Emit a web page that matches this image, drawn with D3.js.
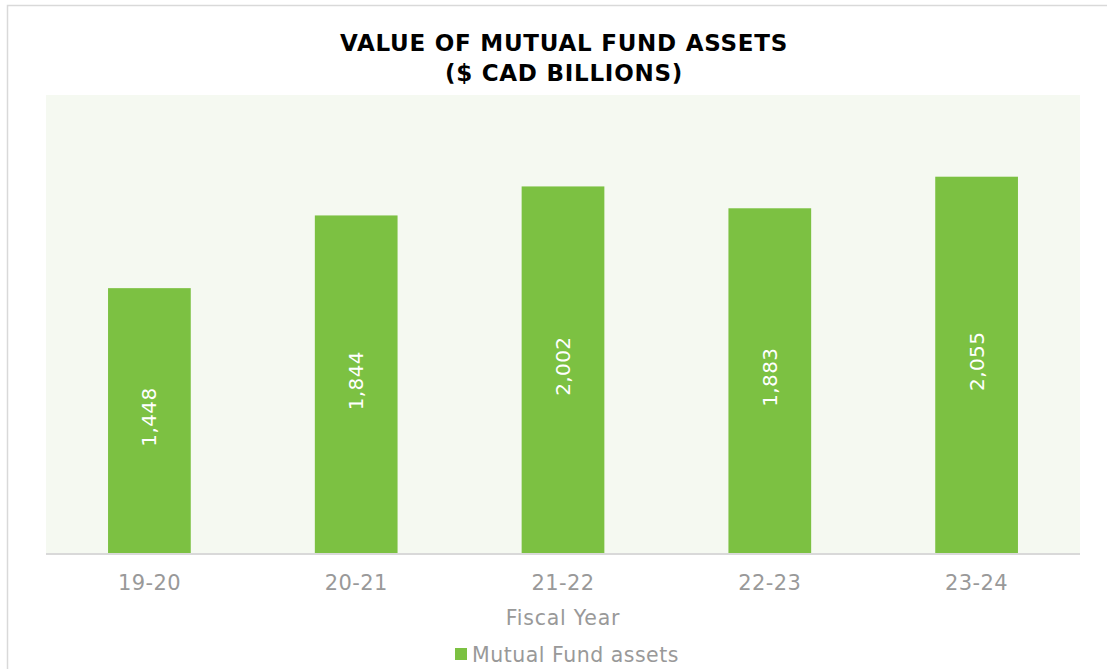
<!DOCTYPE html>
<html>
<head>
<meta charset="utf-8">
<script src="https://cdn.jsdelivr.net/npm/d3@7"></script>
<style>
  html, body { margin: 0; padding: 0; background: #ffffff; }
  svg { display: block; }
  text { font-family: "DejaVu Sans", Verdana, sans-serif; }
</style>
</head>
<body>
<svg id="chart" width="1107" height="669"></svg>
<script>
// Fiscal years and mutual fund assets ($ CAD billions)
const years = ["19-20", "20-21", "21-22", "22-23", "23-24"];
const assets = [1448, 1844, 2002, 1883, 2055];
const seriesName = "Mutual Fund assets";
const titleLines = ["VALUE OF MUTUAL FUND ASSETS", "($ CAD BILLIONS)"];
const xTitle = "Fiscal Year";

const W = 1107, H = 669;
const plot = { left: 46, right: 1080, top: 95, bottom: 554 };
const green = "#7cc142";
const grey = "#999999";

const svg = d3.select("#chart");

// outer chart frame
svg.append("rect")
  .attr("x", 7.5).attr("y", 5.5)
  .attr("width", W + 10).attr("height", H + 10)
  .attr("fill", "#ffffff")
  .attr("stroke", "#d9d9d9").attr("stroke-width", 1.5);

// plot area background
svg.append("rect")
  .attr("x", plot.left).attr("y", plot.top)
  .attr("width", plot.right - plot.left).attr("height", plot.bottom - plot.top)
  .attr("fill", "#f5f9f1");

// title
svg.append("text")
  .attr("text-anchor", "middle")
  .attr("font-weight", "bold").attr("font-size", 23).attr("fill", "#000")
  .attr("letter-spacing", 0.75)
  .selectAll("tspan").data(titleLines).join("tspan")
  .attr("x", 564).attr("y", (d, i) => 51 + i * 30)
  .text(d => d);

const x = d3.scaleBand().domain(years).range([plot.left, plot.right]).paddingInner(0.6).paddingOuter(0.3);
const y = d3.scaleLinear().domain([0, 2500]).range([plot.bottom, plot.top]);

// bars
svg.append("g").selectAll("rect").data(years).join("rect")
  .attr("x", d => x(d))
  .attr("y", (d, i) => y(assets[i]))
  .attr("width", x.bandwidth())
  .attr("height", (d, i) => y(0) - y(assets[i]))
  .attr("fill", green);

// value labels inside bars, rotated
const fmt = d3.format(",");
svg.append("g").selectAll("text").data(years).join("text")
  .attr("transform", (d, i) => {
    const cx = x(d) + x.bandwidth() / 2;
    const cy = (y(assets[i]) + y(0)) / 2 - 4;
    return `translate(${cx},${cy}) rotate(-90)`;
  })
  .attr("text-anchor", "middle").attr("dominant-baseline", "central")
  .attr("font-size", 20).attr("letter-spacing", 0.4).attr("fill", "#ffffff")
  .text((d, i) => fmt(assets[i]));

// x axis
const xAxis = svg.append("g")
  .attr("transform", `translate(0,${plot.bottom})`)
  .call(d3.axisBottom(x).tickSize(0).tickPadding(21));
xAxis.select(".domain").attr("stroke", "#d9d9d9").attr("stroke-width", 2)
  .attr("d", `M${plot.left},0H${plot.right}`);
xAxis.selectAll("text")
  .attr("font-family", "\"DejaVu Sans\", Verdana, sans-serif")
  .attr("font-size", 21).attr("letter-spacing", 0.4).attr("fill", grey);

// axis title
svg.append("text")
  .attr("x", 563).attr("y", 625).attr("text-anchor", "middle")
  .attr("font-size", 20.5).attr("letter-spacing", 0.75).attr("fill", grey)
  .text(xTitle);

// legend
const legend = svg.append("g");
legend.append("rect").attr("x", 455).attr("y", 648).attr("width", 12).attr("height", 12).attr("fill", green);
legend.append("text").attr("x", 472).attr("y", 662)
  .attr("font-size", 20.5).attr("letter-spacing", 0.5).attr("fill", grey).text(seriesName);
</script>
</body>
</html>
